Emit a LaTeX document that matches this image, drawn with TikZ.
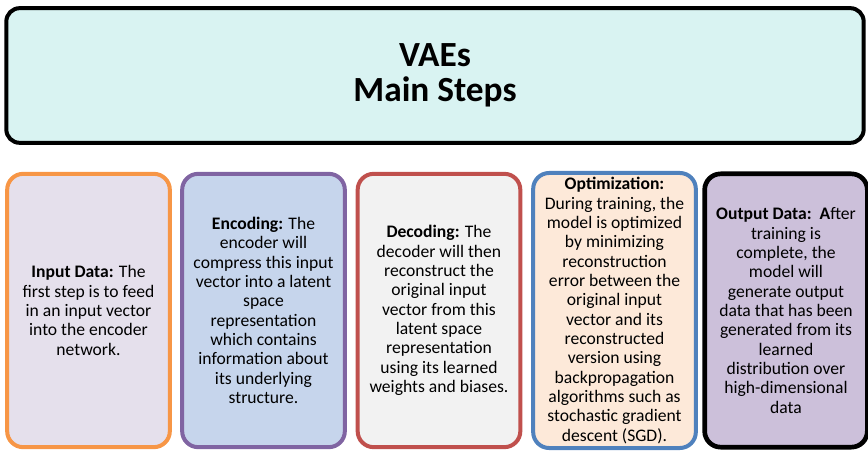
\documentclass[tikz,border=0pt]{standalone}
\usepackage{fontspec}
\setmainfont{Carlito}

\definecolor{titlefill}{HTML}{D9F3F2}
\definecolor{inputline}{HTML}{F79646}
\definecolor{inputfill}{HTML}{E5E0EC}
\definecolor{encline}{HTML}{8064A2}
\definecolor{encfill}{HTML}{C6D5EC}
\definecolor{decline}{HTML}{C0504D}
\definecolor{decfill}{HTML}{F2F2F2}
\definecolor{optline}{HTML}{4F81BD}
\definecolor{optfill}{HTML}{FDE9D9}
\definecolor{outfill}{HTML}{CCC0DA}

\begin{document}
\begin{tikzpicture}[x=0.75pt, y=-0.75pt,
    titlebox/.style={draw=black, line width=3pt, rounded corners=10pt, fill=titlefill,
        minimum width=643pt, minimum height=101pt, align=center,
        font=\fontsize{26.5}{26}\selectfont\bfseries},
    stepbox/.style={line width=3pt, rounded corners=12pt, align=center,
        minimum width=122pt, minimum height=205pt,
        font=\fontsize{13.2}{14.5}\selectfont}]
    \useasboundingbox (0, 0) rectangle (868, 452);

    \coordinate (T) at (435, 75.5);
    \coordinate (S1) at (88.5, 310.5);
    \coordinate (S2) at (263.5, 310.5);
    \coordinate (S3) at (439, 310.5);
    \coordinate (S4) at (614.5, 310.5);
    \coordinate (S5) at (786, 310.5);

    \node[titlebox] (title) at (T) {VAEs\\Main Steps};

    \node[stepbox, draw=inputline, fill=inputfill] (input) at (S1)
        {\textbf{Input Data:} The\\first step is to feed\\in an input vector\\into the encoder\\network.};
    \node[stepbox, draw=encline, fill=encfill] (encoding) at (S2)
        {\textbf{Encoding:} The\\encoder will\\compress this input\\vector into a latent\\space\\representation\\which contains\\information about\\its underlying\\structure.};
    \node[stepbox, draw=decline, fill=decfill] (decoding) at (S3)
        {\textbf{Decoding:} The\\decoder will then\\reconstruct the\\original input\\vector from this\\latent space\\representation\\using its learned\\weights and biases.};
    \node[stepbox, draw=optline, fill=optfill] (optimization) at (S4)
        {\textbf{Optimization:}\\During training, the\\model is optimized\\by minimizing\\reconstruction\\error between the\\original input\\vector and its\\reconstructed\\version using\\backpropagation\\algorithms such as\\stochastic gradient\\descent (SGD).};
    \node[stepbox, draw=black, line width=3.5pt, fill=outfill] (output) at (S5)
        {\textbf{Output Data:\ \ A}fter\\training is\\complete, the\\model will\\generate output\\data that has been\\generated from its\\learned\\distribution over\\high-dimensional\\data};
\end{tikzpicture}
\end{document}
